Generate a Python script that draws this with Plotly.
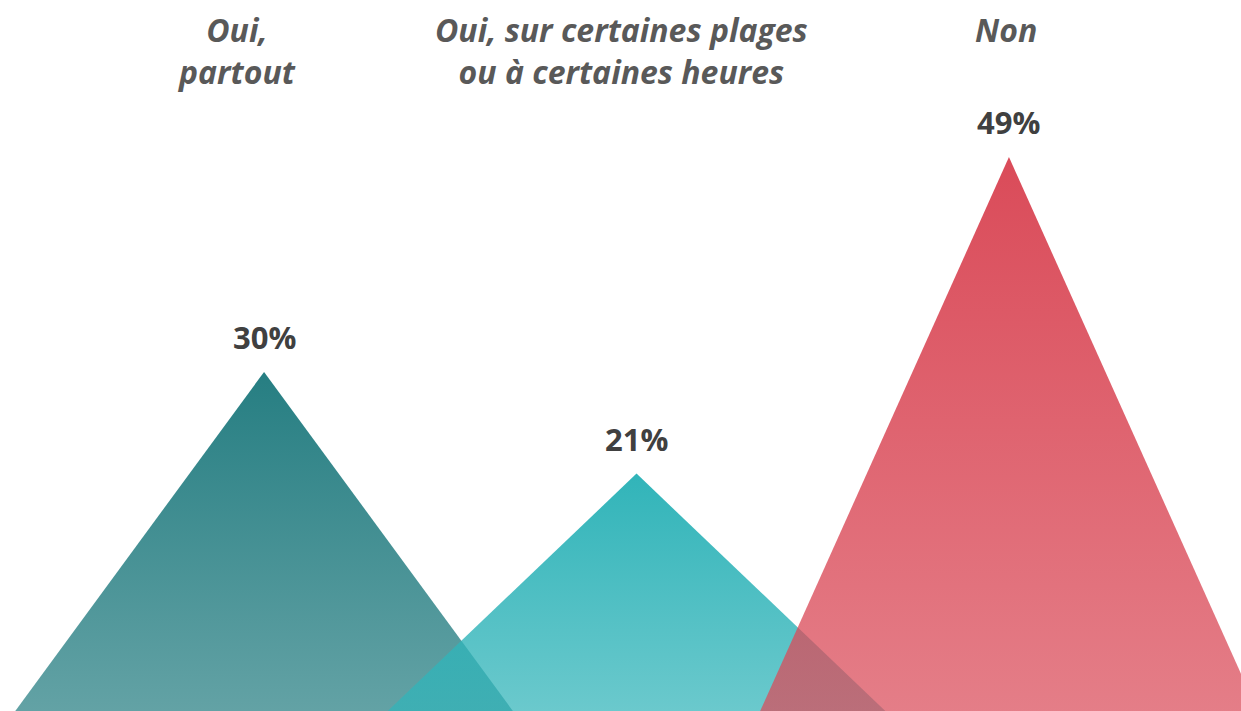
import plotly.graph_objects as go

# Data
categories = ["Oui,<br>partout", "Oui, sur certaines plages<br>ou à certaines heures", "Non"]
values = [30, 21, 49]
colors = [(38, 126, 130), (49, 180, 185), (218, 75, 89)]

HALF_WIDTH = 0.668  # half base width of each triangle, in category units
LABEL_SHIFT = [-28, -15, -3]  # italic label nudge, px


def rgba(c, a):
    return f"rgba({c[0]},{c[1]},{c[2]},{a})"


fig = go.Figure()

for i, (v, c) in enumerate(zip(values, colors)):
    fig.add_trace(
        go.Scatter(
            x=[i - HALF_WIDTH, i, i + HALF_WIDTH, i - HALF_WIDTH],
            y=[0, v, 0, 0],
            mode="lines",
            fill="toself",
            line=dict(width=0),
            fillgradient=dict(
                type="vertical",
                colorscale=[[0, rgba(c, 0.72)], [1, rgba(c, 1.0)]],
            ),
            hoverinfo="skip",
            showlegend=False,
        )
    )

annotations = []
for i, (cat, v) in enumerate(zip(categories, values)):
    # value label above the peak
    annotations.append(
        dict(
            x=i, y=v, xref="x", yref="y",
            text=f"<b>{v}%</b>",
            showarrow=False,
            yanchor="bottom",
            yshift=12,
            font=dict(family="Open Sans, sans-serif", size=31, color="#404040"),
        )
    )
    # category label at the top
    annotations.append(
        dict(
            x=i, y=1.0, xref="x", yref="paper",
            text=f"<b><i>{cat}</i></b>",
            showarrow=False,
            yanchor="top",
            xshift=LABEL_SHIFT[i],
            yshift=-6,
            align="center",
            font=dict(family="Open Sans, sans-serif", size=32, color="#595959"),
        )
    )

fig.update_layout(
    width=1241,
    height=711,
    margin=dict(l=0, r=0, t=0, b=0),
    paper_bgcolor="white",
    plot_bgcolor="white",
    xaxis=dict(range=[-0.709, 2.623], visible=False, fixedrange=True),
    yaxis=dict(range=[0, 62.9], visible=False, fixedrange=True),
    annotations=annotations,
)

# drop the default body margin so the figure fills the window
fig.write_html(
    "out.html",
    config={"displayModeBar": False},
    post_script="document.body.style.margin = '0';",
)
